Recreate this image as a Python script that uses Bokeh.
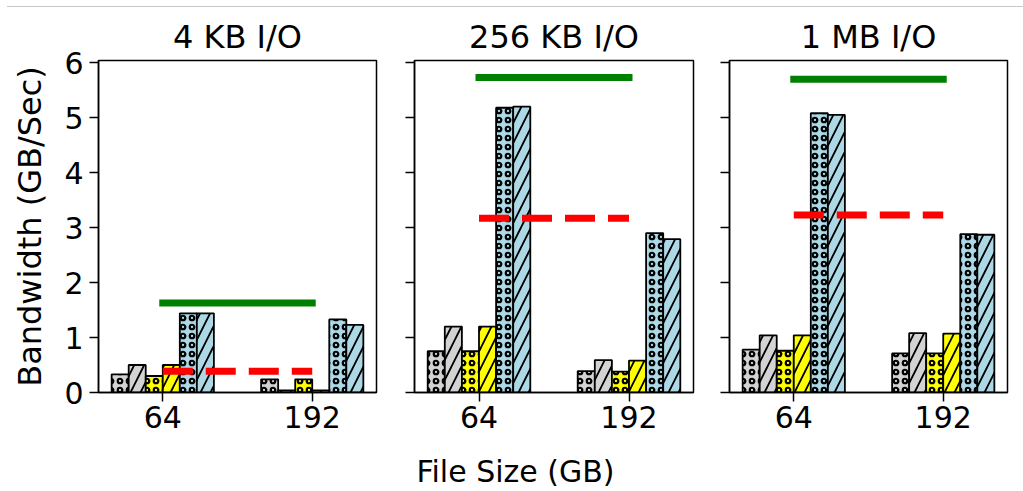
from bokeh.plotting import figure
from bokeh.layouts import row, column
from bokeh.models import Range1d, FixedTicker, Div
from bokeh.embed import file_html
from bokeh.resources import INLINE

# ---- data ----
panel_titles = ["4 KB I/O", "256 KB I/O", "1 MB I/O"]
file_sizes = ["64", "192"]
# each list: one [64GB, 192GB] pair per panel
grey_dot = [[0.33, 0.24], [0.75, 0.39], [0.78, 0.71]]
grey_hatch = [[0.50, 0.04], [1.20, 0.59], [1.04, 1.08]]
yellow_dot = [[0.30, 0.24], [0.75, 0.38], [0.76, 0.71]]
yellow_hatch = [[0.50, 0.04], [1.20, 0.58], [1.04, 1.07]]
blue_dot = [[1.44, 1.33], [5.18, 2.90], [5.08, 2.88]]
blue_hatch = [[1.44, 1.23], [5.20, 2.79], [5.05, 2.87]]
green_level = [1.63, 5.73, 5.70]
red_level = [0.385, 3.17, 3.23]
y_ticks = [0, 1, 2, 3, 4, 5, 6]

series = [
    (grey_dot, "#d3d3d3", "ring"),
    (grey_hatch, "#d3d3d3", "right_diagonal_line"),
    (yellow_dot, "#ffff00", "ring"),
    (yellow_hatch, "#ffff00", "right_diagonal_line"),
    (blue_dot, "#add8e6", "ring"),
    (blue_hatch, "#add8e6", "right_diagonal_line"),
]

FONT = "DejaVu Sans"
bar_w = 0.114
frame_h = 332
borders = [(91, 19, 278), (19, 18, 279), (18, 7, 278)]
figs = []
for k in range(3):
    bl, br, fw = borders[k]
    p = figure(width=bl + fw + br, height=53 + frame_h + 50,
               output_backend="svg", toolbar_location=None,
               x_range=Range1d(-0.43, 1.43), y_range=Range1d(0, 6.04),
               min_border_left=bl, min_border_right=br,
               min_border_top=53, min_border_bottom=50,
               title=panel_titles[k])
    p.title.text_font = FONT
    p.title.text_font_size = "32px"
    p.title.text_font_style = "normal"
    p.title.text_color = "black"
    p.title.align = "center"
    p.title.standoff = 9
    p.xgrid.visible = False
    p.ygrid.visible = False
    p.outline_line_color = "black"
    p.outline_line_width = 1.5
    p.outline_line_alpha = 1

    gx = list(range(len(file_sizes)))
    for i, (vals, col, hp) in enumerate(series):
        xs = [g + (i - 2.5) * bar_w for g in gx]
        is_ring = hp == "ring"
        p.vbar(x=xs, top=vals[k], bottom=0, width=bar_w,
               fill_color=col, line_color="black", line_width=1.8,
               hatch_pattern=hp, hatch_color="black",
               hatch_weight=2.2 if is_ring else 1.8,
               hatch_scale=9 if is_ring else 20)

    p.line(x=[gx[0], gx[-1]], y=[green_level[k]] * 2, line_color="green",
           line_width=7, line_cap="square")
    p.line(x=[gx[0], gx[-1]], y=[red_level[k]] * 2, line_color="red",
           line_width=7, line_dash="30 13")

    for ax in (p.xaxis[0], p.yaxis[0]):
        ax.axis_line_color = "black"
        ax.axis_line_width = 1.5
        ax.major_tick_line_color = "black"
        ax.major_tick_line_width = 1.5
        ax.major_tick_out = 9
        ax.major_tick_in = 0
        ax.minor_tick_line_color = None
        ax.major_label_text_font = FONT
        ax.major_label_text_font_size = "30px"
        ax.major_label_text_color = "black"
    p.xaxis.ticker = FixedTicker(ticks=gx)
    p.xaxis.major_label_overrides = {g: s for g, s in zip(gx, file_sizes)}
    p.xaxis.major_label_standoff = 4
    p.yaxis.ticker = FixedTicker(ticks=y_ticks)
    if k == 0:
        p.yaxis.axis_label = "Bandwidth (GB/Sec)"
        p.yaxis.axis_label_text_font = FONT
        p.yaxis.axis_label_text_font_size = "32px"
        p.yaxis.axis_label_text_font_style = "normal"
        p.yaxis.axis_label_text_color = "black"
        p.yaxis.axis_label_standoff = 12
        p.yaxis.major_label_standoff = 6
    else:
        p.yaxis.major_label_overrides = {t: "" for t in y_ticks}
        p.yaxis.major_label_standoff = 0
    figs.append(p)

xlabel = Div(text="File Size (GB)", width=1007, height=40,
             styles={"text-align": "center", "font-family": FONT,
                     "font-size": "30px", "color": "black",
                     "line-height": "1", "width": "1007px",
                     "padding-top": "10px"})

layout = column(row(*figs), xlabel,
                styles={"border-top": "1px solid #c8c8c8",
                        "margin-top": "6px", "margin-left": "7px"})
open("out.html", "w").write(file_html(layout, INLINE))
